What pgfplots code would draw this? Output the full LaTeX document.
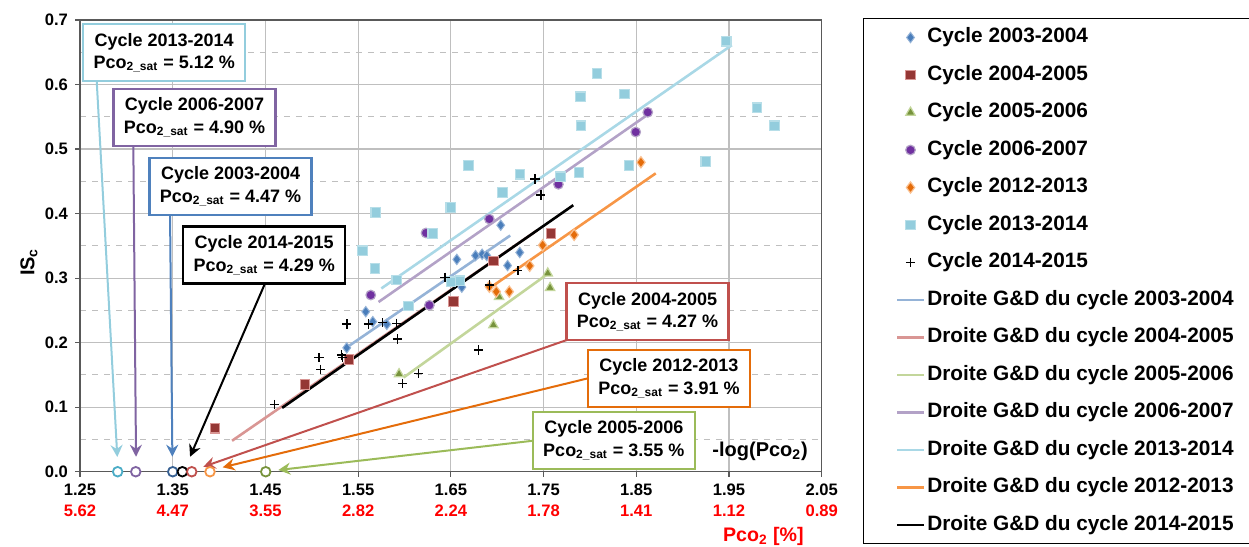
\documentclass[border=0pt]{standalone}
\usepackage{fontspec}
\setmainfont{Liberation Sans}
\usepackage{pgfplots}
\pgfplotsset{compat=1.18}
\usetikzlibrary{arrows.meta}

\definecolor{bD}{HTML}{4A7EBB}\definecolor{bE}{HTML}{95B3D7}
\definecolor{rD}{HTML}{953735}\definecolor{rE}{HTML}{D99694}
\definecolor{gD}{HTML}{77933C}\definecolor{gE}{HTML}{C3D69B}
\definecolor{pD}{HTML}{7030A0}\definecolor{pE}{HTML}{B3A2C7}
\definecolor{oD}{HTML}{E46C0A}\definecolor{oE}{HTML}{FAC090}
\definecolor{cD}{HTML}{93CDDD}\definecolor{cE}{HTML}{B7DEE8}
\definecolor{cL}{HTML}{A9D8E6}
\definecolor{oL}{HTML}{F79646}
\definecolor{redB}{HTML}{C0504D}
\definecolor{purB}{HTML}{8064A2}
\definecolor{bluB}{HTML}{4F81BD}
\definecolor{grnB}{HTML}{9BBB59}
\definecolor{cyaS}{HTML}{4BACC6}
\definecolor{bluS}{HTML}{376092}
\definecolor{gridc}{HTML}{BFBFBF}
\definecolor{axc}{HTML}{595959}

\pgfplotsset{
  gd/.style={no markers, line width=1.3pt,
    legend image code/.code={\path (-8pt,0pt) (13.5pt,0pt); \draw[##1] (0pt,0pt) -- (13.5pt,0pt);}},
  pts/.style={only marks,
    legend image code/.code={\path (-8pt,0pt) (13.5pt,0pt); \draw[##1] plot coordinates {(6.75pt,0pt)};}},
  sat/.style={only marks, mark=*, mark size=2.4pt, mark options={fill=white, line width=0.9pt}, forget plot},
}
\tikzset{
  arr/.style={line width=1pt, -{Stealth[length=6pt,width=6pt,inset=2pt]}},
  callout/.style={fill=white, line width=1.2pt, align=center, minimum width=81pt,
    minimum height=28.5pt, inner sep=0pt, font=\fontsize{9}{11.3}\selectfont\bfseries},
}

\begin{document}
\begin{tikzpicture}
\begin{axis}[
  scale only axis, width=370.9pt, height=225.9pt,
  xmin=1.25, xmax=2.05, ymin=0, ymax=0.7,
  clip=false,
  xtick={1.25,1.35,1.45,1.55,1.65,1.75,1.85,1.95,2.05},
  xticklabels={{1.25\\\textcolor{red}{5.62}},{1.35\\\textcolor{red}{4.47}},{1.45\\\textcolor{red}{3.55}},
    {1.55\\\textcolor{red}{2.82}},{1.65\\\textcolor{red}{2.24}},{1.75\\\textcolor{red}{1.78}},
    {1.85\\\textcolor{red}{1.41}},{1.95\\\textcolor{red}{1.12}},{2.05\\\textcolor{red}{0.89}}},
  ytick={0,0.1,0.2,0.3,0.4,0.5,0.6,0.7},
  yticklabels={0.0,0.1,0.2,0.3,0.4,0.5,0.6,0.7},
  minor ytick={0.05,0.15,0.25,0.35,0.45,0.55,0.65},
  xmajorgrids=true, ymajorgrids=true, yminorgrids=true,
  major grid style={draw=gridc, line width=0.6pt},
  minor grid style={draw=gridc, dashed, line width=0.5pt},
  tick align=outside, tick pos=left,
  major tick length=2.5pt, minor tick length=0pt,
  tick style={draw=axc, line width=0.6pt},
  axis line style={draw=axc, line width=0.7pt},
  xticklabel style={align=center, font=\fontsize{8.3}{10.8}\selectfont\bfseries},
  yticklabel style={font=\fontsize{8.3}{10}\selectfont\bfseries},
  ylabel={IS\textsubscript{c}},
  ylabel style={font=\fontsize{10}{12}\selectfont\bfseries, at={(rel axis cs:-0.069,0.464)}, anchor=center},
  legend cell align=left,
  legend style={at={(1.0557,1.0044)}, anchor=north west, draw=black, line width=0.7pt, fill=white,
    font=\fontsize{10.4}{12}\selectfont\bfseries, inner xsep=8pt, inner ysep=3.5pt,
    row sep=6.95pt, column sep=0pt,
    nodes={inner sep=1pt, text height=7.6pt, text depth=2.2pt}},
]
% points
\addplot[pts, mark=diamond*, mark size=2.6pt, mark options={fill=bD, draw=bE, line width=0.5pt}] coordinates {
 (1.5377,0.192) (1.5582,0.248) (1.5658,0.2325) (1.5809,0.2284) (1.6564,0.329) (1.6766,0.335)
 (1.6837,0.337) (1.6887,0.335) (1.7038,0.382) (1.7112,0.3195) (1.7243,0.3397) (1.6618,0.286)};
\addlegendentry{Cycle 2003-2004}
\addplot[pts, mark=square*, mark size=2.4pt, mark options={fill=rD, draw=rE, line width=0.6pt}] coordinates {
 (1.3956,0.0673) (1.4927,0.1354) (1.5402,0.174) (1.6527,0.264) (1.6959,0.3265) (1.758,0.3694)};
\addlegendentry{Cycle 2004-2005}
\addplot[pts, mark=triangle*, mark size=2.7pt, mark options={fill=gD, draw=gE, line width=0.6pt}] coordinates {
 (1.5941,0.1514) (1.6959,0.2273) (1.702,0.271) (1.7545,0.3075) (1.757,0.285)};
\addlegendentry{Cycle 2005-2006}
\addplot[pts, mark=*, mark size=2.4pt, mark options={fill=pD, draw=pE, line width=0.6pt}] coordinates {
 (1.5636,0.2738) (1.6232,0.370) (1.6268,0.258) (1.6915,0.3916) (1.766,0.4454) (1.8624,0.557) (1.8494,0.5264)};
\addlegendentry{Cycle 2006-2007}
\addplot[pts, mark=diamond*, mark size=2.8pt, mark options={fill=oD, draw=oE, line width=0.6pt}] coordinates {
 (1.6915,0.2867) (1.699,0.279) (1.713,0.279) (1.735,0.319) (1.749,0.351) (1.783,0.367) (1.855,0.4795)};
\addlegendentry{Cycle 2012-2013}
\addplot[pts, mark=square*, mark size=2.4pt, mark options={fill=cD, draw=cE, line width=0.6pt}] coordinates {
 (1.5545,0.3425) (1.569,0.4014) (1.5682,0.315) (1.5916,0.297) (1.6042,0.2568) (1.6305,0.3694)
 (1.6499,0.4097) (1.6502,0.2944) (1.6599,0.296) (1.6689,0.4748) (1.7056,0.433) (1.7246,0.4609)
 (1.7681,0.457) (1.7883,0.4634) (1.7904,0.536) (1.7897,0.581) (1.8077,0.6174) (1.8372,0.5853)
 (1.8422,0.4748) (1.925,0.481) (1.9469,0.667) (1.9803,0.564) (1.999,0.536)};
\addlegendentry{Cycle 2013-2014}
\addplot[pts, mark=+, mark size=2.3pt, mark options={draw=black, line width=0.75pt}] coordinates {
 (1.4596,0.1044) (1.5078,0.1767) (1.5096,0.1587) (1.5323,0.1808) (1.533,0.1767) (1.5377,0.2289)
 (1.561,0.2289) (1.5761,0.2309) (1.5916,0.23) (1.5923,0.2056) (1.5977,0.137) (1.615,0.1525)
 (1.6437,0.3013) (1.6797,0.1886) (1.6915,0.2893) (1.7222,0.3115) (1.7408,0.4536) (1.747,0.4288)};
\addlegendentry{Cycle 2014-2015}
% G&D lines
\addplot[gd, color=bE] coordinates {(1.536,0.191) (1.714,0.366)};
\addlegendentry{Droite G\&D du cycle 2003-2004}
\addplot[gd, color=rE] coordinates {(1.414,0.048) (1.743,0.374)};
\addlegendentry{Droite G\&D du cycle 2004-2005}
\addplot[gd, color=gE] coordinates {(1.599,0.146) (1.753,0.305)};
\addlegendentry{Droite G\&D du cycle 2005-2006}
\addplot[gd, color=pE] coordinates {(1.572,0.263) (1.862,0.553)};
\addlegendentry{Droite G\&D du cycle 2006-2007}
\addplot[gd, color=cL] coordinates {(1.575,0.284) (1.953,0.661)};
\addlegendentry{Droite G\&D du cycle 2013-2014}
\addplot[gd, color=oL] coordinates {(1.694,0.2867) (1.871,0.4624)};
\addlegendentry{Droite G\&D du cycle 2012-2013}
\addplot[gd, color=black] coordinates {(1.468,0.099) (1.782,0.413)};
\addlegendentry{Droite G\&D du cycle 2014-2015}
% saturation points on the axis
\addplot[sat, color=cyaS] coordinates {(1.2906,0)};
\addplot[sat, color=purB] coordinates {(1.3101,0)};
\addplot[sat, color=bluS] coordinates {(1.35,0)};
\addplot[sat, color=black] coordinates {(1.3604,0)};
\addplot[sat, color=redB] coordinates {(1.3705,0)};
\addplot[sat, color=oL] coordinates {(1.3902,0)};
\addplot[sat, color=gD] coordinates {(1.4503,0)};
% arrows
\draw[arr, cD] (axis cs:1.268,0.6055) -- (axis cs:1.2902,0.0228);
\draw[arr, purB] (axis cs:1.3075,0.5047) -- (axis cs:1.3104,0.0232);
\draw[arr, bluB] (axis cs:1.3471,0.3978) -- (axis cs:1.3496,0.0232);
\draw[arr, black] (axis cs:1.4496,0.292) -- (axis cs:1.3687,0.0232);
\draw[arr, redB] (axis cs:1.775,0.2041) -- (axis cs:1.383,0.0077);
\draw[arr, oD] (axis cs:1.7977,0.1447) -- (axis cs:1.4039,0.0068);
\draw[arr, grnB] (axis cs:1.7384,0.048) -- (axis cs:1.4639,0.0026);
% callouts
\node[callout, draw=cD] at (axis cs:1.3408,0.6493) {Cycle 2013-2014\\Pco\textsubscript{2\_sat} = 5.12 \%};
\node[callout, draw=purB] at (axis cs:1.3735,0.5489) {Cycle 2006-2007\\Pco\textsubscript{2\_sat} = 4.90 \%};
\node[callout, draw=bluB] at (axis cs:1.4124,0.4423) {Cycle 2003-2004\\Pco\textsubscript{2\_sat} = 4.47 \%};
\node[callout, draw=black] at (axis cs:1.4487,0.3358) {Cycle 2014-2015\\Pco\textsubscript{2\_sat} = 4.29 \%};
\node[callout, draw=redB] at (axis cs:1.8622,0.248) {Cycle 2004-2005\\Pco\textsubscript{2\_sat} = 4.27 \%};
\node[callout, draw=oD] at (axis cs:1.8852,0.1447) {Cycle 2012-2013\\Pco\textsubscript{2\_sat} = 3.91 \%};
\node[callout, draw=grnB] at (axis cs:1.8258,0.0484) {Cycle 2005-2006\\Pco\textsubscript{2\_sat} = 3.55 \%};
% texts
\node[font=\fontsize{10}{12}\selectfont\bfseries] at (axis cs:1.9836,0.031) {-log(Pco\textsubscript{2})};
\node[anchor=base, text=red, font=\fontsize{9.8}{12}\selectfont\bfseries] at (rel axis cs:0.9213,-0.1555) {Pco\textsubscript{2} [\%]};
\coordinate (bbA) at (rel axis cs:-0.1079,-0.1645);
\coordinate (bbB) at (rel axis cs:1.5761,1.0443);
\end{axis}
\pgfresetboundingbox
\useasboundingbox (bbA) rectangle (bbB);
\end{tikzpicture}
\end{document}
